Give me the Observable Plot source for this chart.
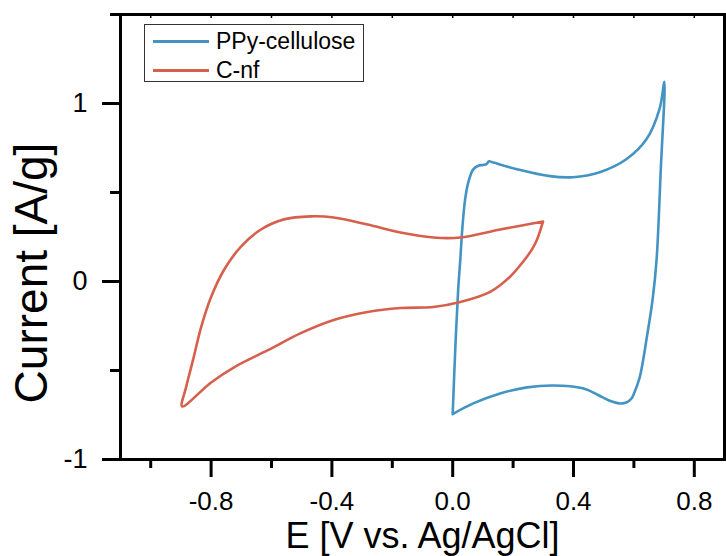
<!DOCTYPE html>
<html>
<head>
<meta charset="utf-8">
<script src="https://cdn.jsdelivr.net/npm/d3@7"></script>
<script src="https://cdn.jsdelivr.net/npm/@observablehq/plot@0.6"></script>
<style>
  html, body { margin: 0; padding: 0; background: #fff; }
  #wrap { position: relative; width: 726px; height: 556px; font-family: "Liberation Sans", Arial, sans-serif; }
  #legend { position: absolute; left: 144px; top: 24px; width: 220px; height: 58px; border: 1px solid #333; box-sizing: border-box; background: #fff; }
  .row { position: absolute; left: 8px; height: 26px; display: flex; align-items: center; font-size: 23px; color: #000; }
  .sw { display: inline-block; width: 56px; height: 3px; margin-right: 7px; }
</style>
</head>
<body>
<div id="wrap"></div>
<script>
// ---- data ----
const seriesNames = ["PPy-cellulose", "C-nf"];
const seriesColors = ["#4393c3", "#d6604d"];

const ppyE = [0.000, 0.008, 0.018, 0.025, 0.032, 0.041, 0.052, 0.068, 0.085, 0.100, 0.112, 0.120, 0.135, 0.213, 0.322, 0.398, 0.487, 0.576, 0.642, 0.685, 0.701, 0.689, 0.675, 0.662, 0.645, 0.619, 0.600, 0.592, 0.575, 0.553, 0.520, 0.497, 0.431, 0.332, 0.246, 0.157, 0.068, 0.000];
const ppyI = [-0.745, -0.40, -0.05, 0.12, 0.30, 0.46, 0.56, 0.63, 0.650, 0.655, 0.660, 0.675, 0.668, 0.631, 0.592, 0.586, 0.614, 0.688, 0.80, 0.97, 1.122, 0.63, 0.12, -0.10, -0.29, -0.54, -0.63, -0.657, -0.68, -0.685, -0.67, -0.651, -0.60, -0.584, -0.595, -0.629, -0.685, -0.745];

const cnfE = [0.299, 0.157, 0.025, -0.064, -0.173, -0.282, -0.394, -0.470, -0.559, -0.635, -0.701, -0.757, -0.800, -0.833, -0.860, -0.883, -0.896, -0.800, -0.724, -0.612, -0.503, -0.394, -0.282, -0.173, -0.064, 0.025, 0.124, 0.190, 0.233, 0.262, 0.279, 0.299];
const cnfI = [0.337, 0.292, 0.247, 0.247, 0.275, 0.320, 0.360, 0.366, 0.349, 0.292, 0.196, 0.066, -0.087, -0.256, -0.442, -0.595, -0.702, -0.567, -0.482, -0.386, -0.290, -0.216, -0.171, -0.149, -0.143, -0.115, -0.058, 0.027, 0.111, 0.179, 0.235, 0.337];

const xMajorTicks = [-0.8, -0.4, 0.0, 0.4, 0.8];
const xMinorTicks = [-1.0, -0.6, -0.2, 0.2, 0.6];
const xTopTicks = [-1.0, -0.8, -0.6, -0.4, -0.2, 0.0, 0.2, 0.4, 0.6, 0.8];
const yMajorTicks = [-1, 0, 1];
const yMinorTicks = [-0.5, 0.5, 1.5];
const xTitle = "E [V vs. Ag/AgCl]";
const yTitle = "Current [A/g]";

// ---- build table ----
const rows = [];
ppyE.forEach((e, i) => rows.push({series: seriesNames[0], E: e, I: ppyI[i]}));
cnfE.forEach((e, i) => rows.push({series: seriesNames[1], E: e, I: cnfI[i]}));

const W = 726, H = 556, mL = 120, mR = 2, mT = 14, mB = 97;
const plotH = H - mT - mB;

const chart = Plot.plot({
  width: W, height: H,
  marginLeft: mL, marginRight: mR, marginTop: mT, marginBottom: mB,
  style: {fontFamily: "'Liberation Sans', Arial, sans-serif", color: "#000", background: "#fff"},
  x: {domain: [-1.1, 0.9], axis: null},
  y: {domain: [-1, 1.5], axis: null},
  color: {domain: seriesNames, range: seriesColors},
  marks: [
    Plot.line(rows, {x: "E", y: "I", z: "series", stroke: "series", strokeWidth: 2.6, curve: "catmull-rom"}),
    Plot.axisX({ticks: xMajorTicks, tickSize: 18, tickPadding: 14, fontSize: 26, strokeWidth: 3, tickFormat: d => d.toFixed(1), label: null}),
    Plot.axisX({ticks: xMinorTicks, tickSize: 9, strokeWidth: 3, fill: "none", label: null}),
    Plot.tickX(xTopTicks, {x: d => d, insetBottom: plotH - 4, stroke: "#000", strokeWidth: 1.5}),
    Plot.axisY({ticks: yMajorTicks, tickSize: 18, tickPadding: 15, fontSize: 27, strokeWidth: 3, tickFormat: d => String(d), label: null}),
    Plot.axisY({ticks: yMinorTicks, tickSize: 10, strokeWidth: 3, fill: "none", label: null}),
    Plot.frame({stroke: "#000", strokeWidth: 3}),
    Plot.text([xTitle], {frameAnchor: "bottom", dy: 77, fontSize: 36, fill: "#000", textAnchor: "middle", lineAnchor: "middle", text: d => d}),
    Plot.text([yTitle], {frameAnchor: "left", dx: -88, dy: 36, rotate: -90, fontSize: 46, fill: "#000", textAnchor: "middle", lineAnchor: "middle", text: d => d})
  ]
});

const wrap = document.getElementById("wrap");
wrap.appendChild(chart);

const legend = document.createElement("div");
legend.id = "legend";
seriesNames.forEach((name, i) => {
  const r = document.createElement("div");
  r.className = "row";
  r.style.top = (i === 0 ? 3 : 32) + "px";
  const sw = document.createElement("span");
  sw.className = "sw";
  sw.style.background = seriesColors[i];
  r.appendChild(sw);
  r.appendChild(document.createTextNode(name));
  legend.appendChild(r);
});
wrap.appendChild(legend);
</script>
</body>
</html>
